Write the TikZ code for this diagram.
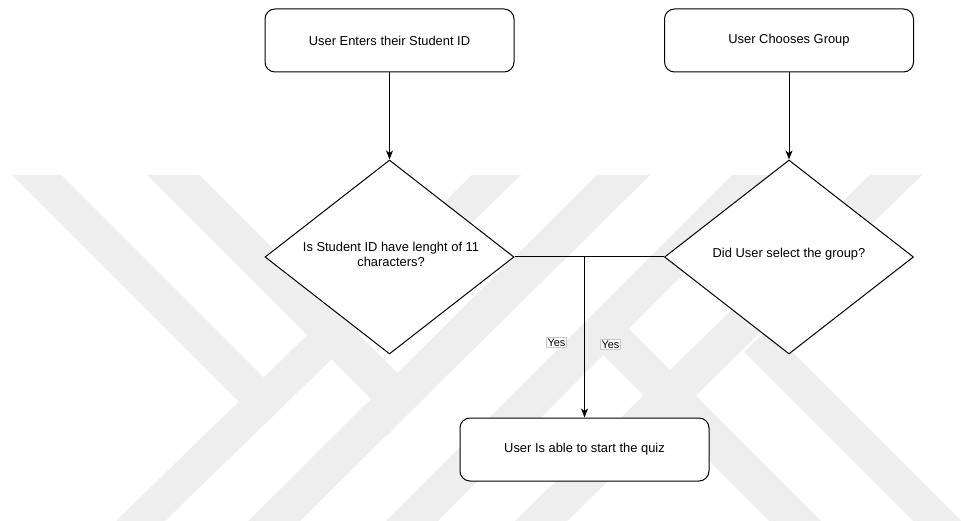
\documentclass[tikz,border=0pt]{standalone}
\usepackage{fontspec}
\setmainfont{Liberation Sans}
\usetikzlibrary{shapes.geometric,arrows.meta}
\definecolor{wm}{RGB}{238,238,238}
\definecolor{yesframe}{RGB}{200,200,200}
\begin{document}
\begin{tikzpicture}[x=1pt,y=-1pt,
  box/.style={draw=black,line width=1pt,rounded corners=10pt,fill=white,minimum width=249pt,minimum height=63pt,inner sep=0pt,font=\fontsize{12.9}{15}\selectfont},
  dia/.style={draw=black,line width=1pt,diamond,fill=white,minimum width=249pt,minimum height=194pt,inner sep=0pt},
  dtext/.style={align=center,font=\fontsize{12.9}{15}\selectfont,inner sep=0pt},
  yeslbl/.style={draw=yesframe,line width=0.6pt,fill=white,inner sep=1pt,font=\fontsize{11}{12}\selectfont},
  conn/.style={line width=1pt,draw=black},
  arr/.style={conn,-{Stealth[length=9pt,width=7pt,inset=2.5pt]}},
  band/.style={fill=wm,draw=none}
]
\fill[white] (0,0) rectangle (961,521);
\useasboundingbox (0,0) rectangle (961,521);
% watermark
\fill[band] (472,175) -- (521,175) -- (165,521) -- (116,521) -- cycle;
\fill[band] (597,175) -- (650,175) -- (300,521) -- (248,521) -- cycle;
\fill[band] (732,175) -- (782,175) -- (438,521) -- (386,521) -- cycle;
\fill[band] (870,175) -- (922,175) -- (567,521) -- (515,521) -- cycle;
\fill[band] (12,175) -- (61,175) -- (266,380) -- (242,405) -- cycle;
\fill[band] (147,175) -- (199,175) -- (398,374) -- (372,400) -- cycle;
\fill[band] (769,521) -- (821,521) -- (628,328) -- (602,354) -- cycle;
\fill[band] (913,521) -- (961,521) -- (768,328) -- (744,352) -- cycle;
% nodes
\node[box] (b1) at (389.5,40.5) {User Enters their Student ID};
\node[box] (b2) at (789,40.5) {User Chooses Group};
\node[dia] (d1) at (389.5,257) {};
\node[dia] (d2) at (789,257) {};
\node[dtext] (d1t) at (391,254.5) {Is Student ID have lenght of 11\\characters?};
\node[dtext] (d2t) at (789,254) {Did User select the group?};
\node[box] (b3) at (584.5,449.5) {User Is able to start the quiz};
% connectors
\draw[arr] (b1.south) -- (d1.north);
\draw[arr] (b2.south) -- (d2.north);
\draw[conn] (d1.east) -- (d2.west);
\coordinate (j) at (b3.north |- d1.east);
\draw[arr] (j) -- (b3.north);
\node[yeslbl] (y1) at (556.5,342.5) {Yes};
\node[yeslbl] (y2) at (610.5,344.5) {Yes};
\end{tikzpicture}
\end{document}
